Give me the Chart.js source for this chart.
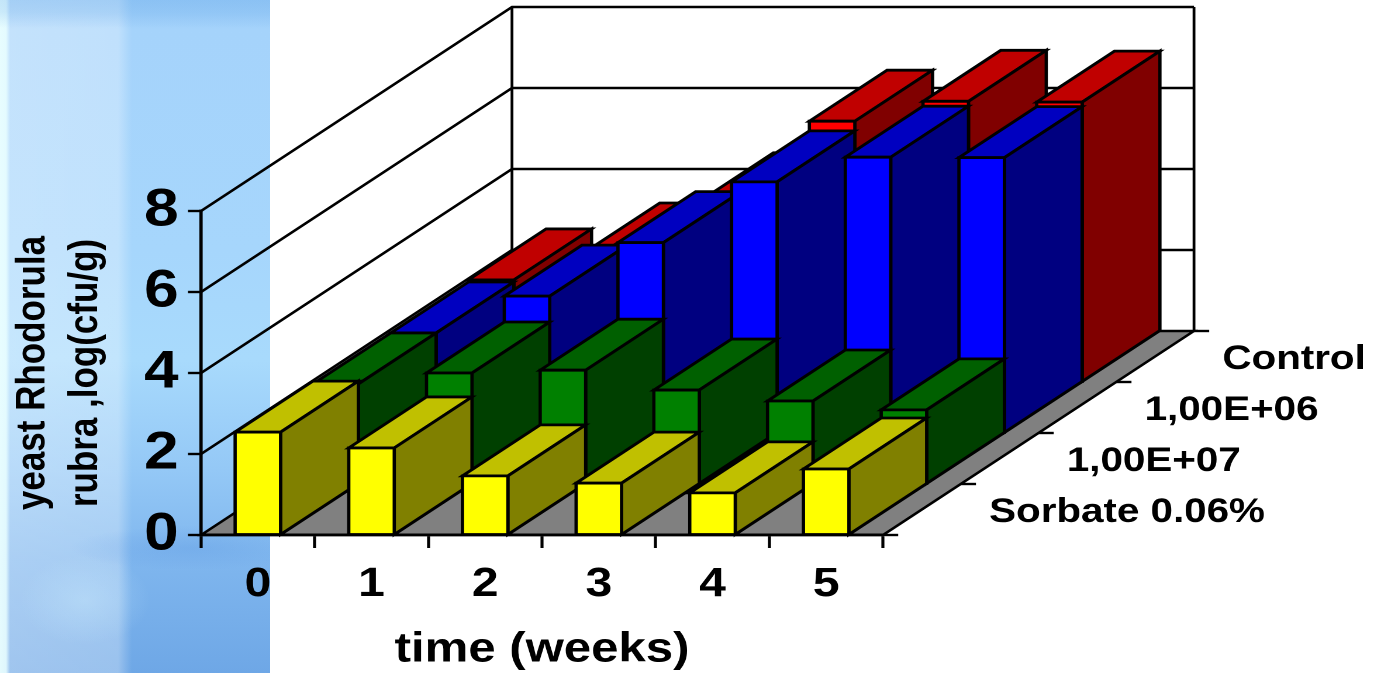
<!DOCTYPE html>
<html>
<head>
<meta charset="utf-8">
<style>
html,body{margin:0;padding:0;width:1374px;height:673px;overflow:hidden;background:#fff}
#panel{position:absolute;left:0;top:0;width:270px;height:673px;
background:
 linear-gradient(180deg,rgba(120,180,235,.3) 0,rgba(120,180,235,.25) 12px,rgba(120,180,235,0) 28px),
 radial-gradient(ellipse 65px 45px at 85px 600px,rgba(205,238,255,.35),rgba(205,238,255,0)),
 radial-gradient(ellipse 120px 22px at 190px 548px,rgba(90,150,225,.3),rgba(90,150,225,0)),
 linear-gradient(90deg,rgba(235,255,255,.95) 0,rgba(235,255,255,.9) 6px,rgba(255,255,255,.34) 10px,rgba(255,255,255,.3) 118px,rgba(255,255,255,.12) 126px,rgba(255,255,255,0) 132px,rgba(255,255,255,0) 270px),
 linear-gradient(180deg,#93c7f7 0,#a5d3fb 30px,#a6d6fc 250px,#a8dafc 360px,#94c8f6 470px,#7fb6ee 560px,#6ea7e6 673px);}
#wrap{position:absolute;left:0;top:0;transform-origin:0 0;transform:scaleX(1.16936)}
canvas{display:block}
</style>
<script src="https://cdn.jsdelivr.net/npm/chart.js@4"></script>
</head>
<body>
<div id="panel"></div>
<div id="wrap"><canvas id="c" width="1175" height="673"></canvas></div>
<script>
const weeks = ['0','1','2','3','4','5'];
const seriesNames = ['Sorbate 0.06%','1,00E+07','1,00E+06','Control'];
const sorbate = [2.54,2.15,1.46,1.28,1.04,1.63];
const e7      = [2.47,2.74,2.81,2.32,2.05,1.83];
const e6      = [2.47,3.38,4.70,6.20,6.81,6.80];
const control = [2.52,3.16,4.40,6.44,6.93,6.91];
const frontColors = ['#ffff00','#008000','#0000ff','#ff0000'];
const topColors   = ['#c0c000','#006000','#0000c0','#c00000'];
const sideColors  = ['#808000','#004000','#000080','#800000'];
const yTitle = ['yeast Rhodorula','rubra ,log(cfu/g)'];
const xTitle = 'time (weeks)';

const S = 1374/1175;
const DX = 77.75/S, DY = 51;
const LW = 2.8, WALL_LW = 2.4;
const FONT = '"Liberation Sans", Arial, sans-serif';

function poly(ctx, pts, fill){
  ctx.beginPath();
  pts.forEach((p,i)=> i?ctx.lineTo(p[0],p[1]):ctx.moveTo(p[0],p[1]));
  ctx.closePath();
  if(fill){ctx.fillStyle=fill;ctx.fill();}
  ctx.stroke();
}
function line(ctx, pts){
  ctx.beginPath();
  pts.forEach((p,i)=> i?ctx.lineTo(p[0],p[1]):ctx.moveTo(p[0],p[1]));
  ctx.stroke();
}

const box3d = {
  id:'box3d',
  beforeDraw(chart){
    const ctx=chart.ctx, a=chart.chartArea, y=chart.scales.y, n=seriesNames.length;
    const dx=DX*n, dy=DY*n;
    const L=a.left,R=a.right,B=a.bottom;
    ctx.save();
    ctx.strokeStyle='#000';ctx.lineWidth=WALL_LW;ctx.lineJoin='miter';
    y.ticks.forEach(t=>{
      const p=y.getPixelForValue(t.value);
      if(t.value>0) line(ctx,[[L,p],[L+dx,p-dy],[R+dx,p-dy]]);
    });
    line(ctx,[[L+dx,a.top-dy],[L+dx,B-dy]]);
    line(ctx,[[R+dx,a.top-dy],[R+dx,B-dy]]);
    poly(ctx,[[L,B],[R,B],[R+dx,B-dy],[L+dx,B-dy]],'#808080');
    for(let s=0;s<=n;s++){
      const ex=R+DX*s, ey=B-DY*s;
      line(ctx,[[ex,ey],[ex+13,ey]]);
    }
    ctx.fillStyle='#000';
    ctx.font='bold 34.5px '+FONT;
    ctx.textAlign='left';ctx.textBaseline='middle';
    seriesNames.forEach((name,s)=>{
      ctx.fillText(name,R+DX*(s+0.5)+57.5,B-DY*(s+0.5)+3);
    });
    ctx.restore();
  },
  beforeDatasetDraw(chart,args){
    const ctx=chart.ctx, s=args.index;
    ctx.save();
    ctx.strokeStyle='#000';ctx.lineWidth=LW;ctx.lineJoin='miter';
    args.meta.data.forEach(bar=>{
      const {x,y,base,width}=bar.getProps(['x','y','base','width'],true);
      const x0=x-width/2+DX*s, x1=x+width/2+DX*s;
      const yt=y-DY*s, yb=base-DY*s;
      poly(ctx,[[x0,yt],[x1,yt],[x1+DX,yt-DY],[x0+DX,yt-DY]],topColors[s]);
      poly(ctx,[[x1,yt],[x1+DX,yt-DY],[x1+DX,yb-DY],[x1,yb]],sideColors[s]);
      poly(ctx,[[x0,yt],[x1,yt],[x1,yb],[x0,yb]],frontColors[s]);
    });
    ctx.restore();
    return false;
  }
};

new Chart(document.getElementById('c'),{
  type:'bar',
  plugins:[box3d],
  data:{
    labels:weeks,
    datasets:[sorbate,e7,e6,control].map((v,i)=>({
      label:seriesNames[i],data:v,backgroundColor:frontColors[i],
      grouped:false,barPercentage:0.4,categoryPercentage:1
    }))
  },
  options:{
    responsive:false,animation:false,devicePixelRatio:2,
    layout:{padding:{left:0,top:211,right:(1374-883)/S,bottom:0}},
    plugins:{legend:{display:false},title:{display:false},tooltip:{enabled:false}},
    scales:{
      x:{
        grid:{drawOnChartArea:false,drawTicks:true,tickLength:13,tickWidth:2.6,tickColor:'#000',offset:true},
        border:{display:true,color:'#000',width:2.8},
        ticks:{color:'#000',padding:12,maxRotation:0,font:{family:FONT,weight:'bold',size:41}},
        title:{display:true,text:xTitle,color:'#000',padding:{top:0,bottom:0},font:{family:FONT,weight:'bold',size:42,lineHeight:1.1}},
        afterFit(s){s.height=138;}
      },
      y:{
        min:0,max:8,
        grid:{drawOnChartArea:false,drawTicks:true,tickLength:13/S,tickWidth:2.4,tickColor:'#000'},
        border:{display:true,color:'#000',width:2.8},
        ticks:{stepSize:2,color:'#000',padding:8,font:{family:FONT,weight:'bold',size:53}},
        title:{display:true,text:yTitle,color:'#000',padding:{top:6,bottom:0},font:{family:FONT,weight:'bold',size:35,lineHeight:1.28}},
        afterFit(s){s.width=201/S;}
      }
    }
  }
});
</script>
</body>
</html>
